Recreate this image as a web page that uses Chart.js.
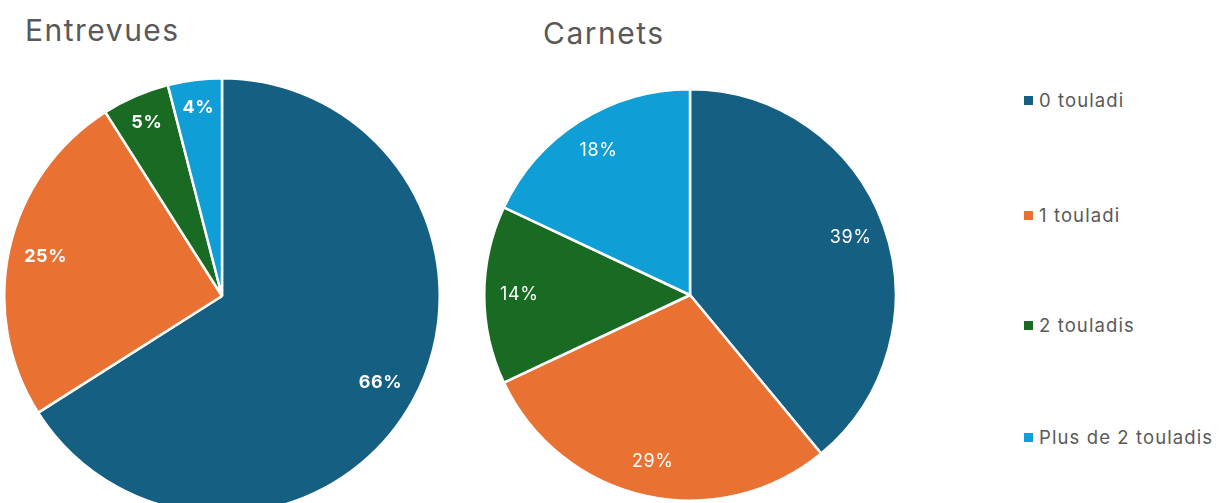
<!DOCTYPE html>
<html>
<head>
<meta charset="utf-8">
<script src="https://cdn.jsdelivr.net/npm/chart.js@4.4.1/dist/chart.umd.min.js"></script>
<style>
    html, body { margin: 0; padding: 0; background: #fff; overflow: hidden; }
    body { width: 1225px; height: 503px; position: relative; font-family: Inter, 'Open Sans', sans-serif; }
    .title { position: absolute; color: #595959; font-size: 30px; line-height: 1; letter-spacing: 1.5px; }
    .box { position: absolute; }
    .legend { position: absolute; left: 1024px; top: 0; color: #595959; font-size: 18.5px; letter-spacing: 1.1px; }
    .legend .item { position: absolute; white-space: nowrap; display: flex; align-items: center; }
    .legend .sw { width: 9px; height: 9px; margin-right: 6px; }
</style>
</head>
<body>
<div class="title" id="t1" style="left:25px; top:15px;"></div>
<div class="title" id="t2" style="left:543px; top:18px;"></div>
<div class="box" style="left:3px; top:77px; width:438px; height:438px;"><canvas id="pie1"></canvas></div>
<div class="box" style="left:483px; top:88px; width:414px; height:414px;"><canvas id="pie2"></canvas></div>
<div class="legend" id="legend"></div>
<script>
// data
var categories = ['0 touladi', '1 touladi', '2 touladis', 'Plus de 2 touladis'];
var entrevuesValues = [66, 25, 5, 4];
var carnetsValues = [39, 29, 14, 18];
var chartTitles = ['Entrevues', 'Carnets'];
var colors = ['#156082', '#E97132', '#196B24', '#0F9ED5'];

(function () {
    document.getElementById('t1').textContent = chartTitles[0];
    document.getElementById('t2').textContent = chartTitles[1];

    // legend built from categories
    var legend = document.getElementById('legend');
    var legendTops = [89, 204, 314, 426];
    categories.forEach(function (c, i) {
        var item = document.createElement('div');
        item.className = 'item';
        item.style.top = legendTops[i] + 'px';
        var sw = document.createElement('span');
        sw.className = 'sw';
        sw.style.background = colors[i];
        var txt = document.createElement('span');
        txt.textContent = c;
        item.appendChild(sw);
        item.appendChild(txt);
        legend.appendChild(item);
    });

    // percent labels inside slices
    var sliceLabels = {
        id: 'sliceLabels',
        afterDatasetsDraw: function (chart) {
            var ctx = chart.ctx;
            var opts = chart.options.plugins.sliceLabels;
            var meta = chart.getDatasetMeta(0);
            var data = chart.data.datasets[0].data;
            ctx.save();
            ctx.fillStyle = '#ffffff';
            ctx.font = opts.weight + ' 18px Inter, "Open Sans", sans-serif';
            if ('letterSpacing' in ctx) ctx.letterSpacing = '0.6px';
            ctx.textAlign = 'center';
            ctx.textBaseline = 'middle';
            meta.data.forEach(function (arc, i) {
                var p = arc.getProps(['x', 'y', 'startAngle', 'endAngle', 'outerRadius'], true);
                var mid = (p.startAngle + p.endAngle) / 2;
                var frac = data[i] < 8 ? 0.87 : 0.83;
                var r = p.outerRadius * frac;
                ctx.fillText(data[i] + '%', p.x + Math.cos(mid) * r, p.y + Math.sin(mid) * r);
            });
            ctx.restore();
        }
    };

    function makePie(id, values, weight) {
        return new Chart(document.getElementById(id), {
            type: 'pie',
            data: {
                labels: categories,
                datasets: [{ data: values, backgroundColor: colors, borderColor: '#ffffff', borderWidth: 2.5 }]
            },
            options: {
                responsive: true,
                maintainAspectRatio: false,
                animation: false,
                layout: { padding: 0 },
                plugins: {
                    legend: { display: false },
                    tooltip: { enabled: false },
                    sliceLabels: { weight: weight }
                }
            },
            plugins: [sliceLabels]
        });
    }

    makePie('pie1', entrevuesValues, 'bold');
    makePie('pie2', carnetsValues, 'normal');
})();
</script>
</body>
</html>
